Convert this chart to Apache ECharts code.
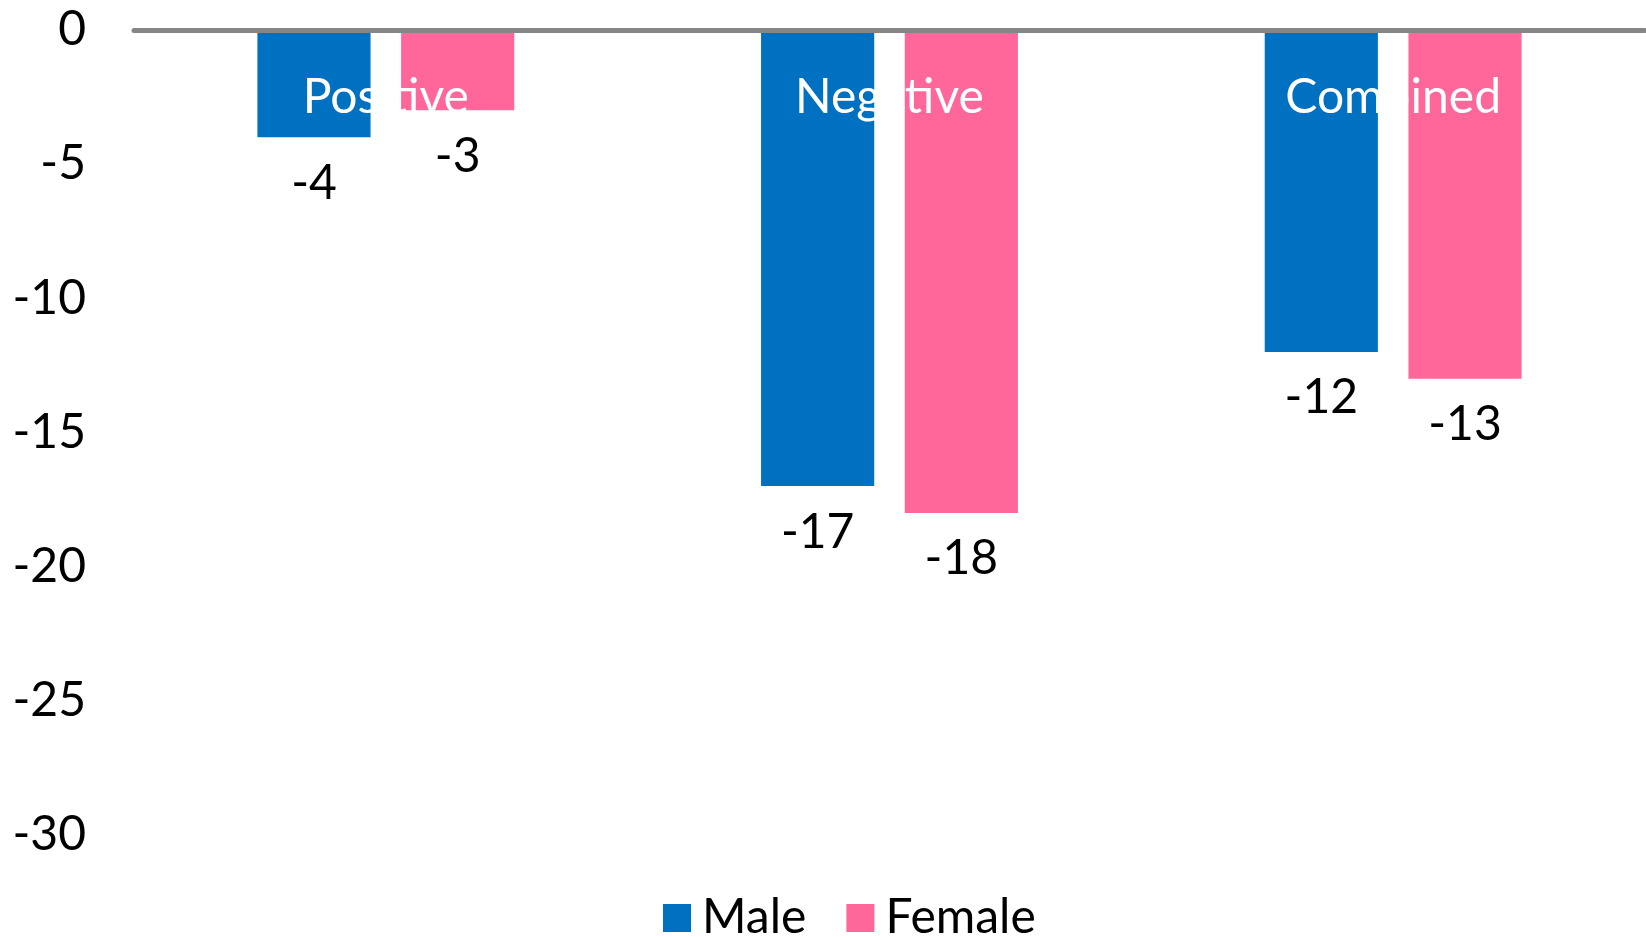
<!DOCTYPE html>
<html><head><meta charset="utf-8">
<script src="https://cdn.jsdelivr.net/npm/echarts@6/dist/echarts.min.js"></script>
<style>html,body{margin:0;padding:0;background:#fff}#c{width:1646px;height:937px}</style>
</head><body><div id="c"></div>
<script>
const categories = ['Positive', 'Negative', 'Combined'];
const maleValues = [-4, -17, -12];
const femaleValues = [-3, -18, -13];
const yTicks = [0, -5, -10, -15, -20, -25, -30];

const FONT = 'Lato';
const chart = echarts.init(document.getElementById('c'), null, {renderer: 'canvas'});
const labelStyle = {show: true, position: 'bottom', distance: 22, color: '#000', fontSize: 48, fontFamily: FONT};
chart.setOption({
  animation: false,
  textStyle: {fontFamily: FONT},
  grid: {left: 134, right: 1, top: 29.8, bottom: 102, containLabel: false},
  legend: {
    data: ['Male', 'Female'], left: 658, bottom: -10, itemWidth: 28, itemHeight: 28, itemGap: 40,
    icon: 'rect', textStyle: {fontSize: 48, color: '#000', fontFamily: FONT, padding: [0, 0, 0, 6]}
  },
  xAxis: {
    type: 'category', data: categories, position: 'top', z: 5,
    axisLine: {onZero: false, lineStyle: {color: '#868686', width: 5}},
    axisTick: {show: false},
    axisLabel: {inside: true, color: '#fff', fontSize: 48, fontFamily: FONT, margin: 44}
  },
  yAxis: {
    type: 'value', min: -30, max: 0, interval: 5,
    axisLine: {show: false}, axisTick: {show: false}, splitLine: {show: false},
    axisLabel: {color: '#000', fontSize: 48, fontFamily: FONT, margin: 48,
      formatter: v => yTicks.includes(v) ? String(v) : ''}
  },
  series: [
    {name: 'Male', type: 'bar', data: maleValues, itemStyle: {color: '#0070C0'},
     barGap: '27%', barCategoryGap: '49%', label: labelStyle},
    {name: 'Female', type: 'bar', data: femaleValues, itemStyle: {color: '#FF6699'},
     label: labelStyle}
  ]
});
</script></body></html>
